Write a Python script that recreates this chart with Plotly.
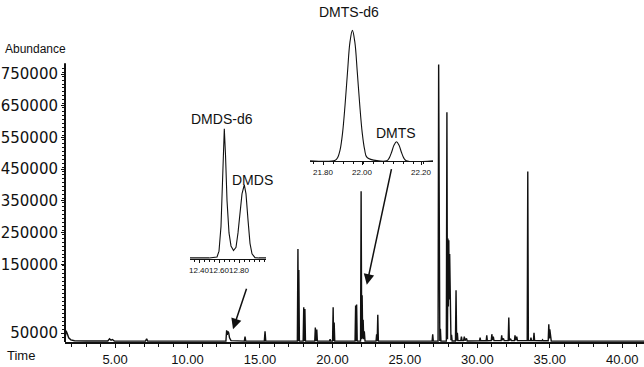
import plotly.graph_objects as go

# ---------------- data ----------------
tic_time = [1.55, 1.62, 1.70, 1.80, 1.95, 2.20, 3.00, 3.80, 4.50, 4.62, 4.72, 4.82, 4.95,
            7.10, 7.18, 7.25, 12.65, 12.70, 12.74, 12.78, 12.84, 12.90, 13.00,
            13.92, 13.97, 14.02, 15.30, 15.35, 15.40,
            17.58, 17.62, 17.65, 17.68, 17.72, 17.98, 18.02, 18.06, 18.10, 18.14,
            18.78, 18.82, 18.87, 18.92, 18.96, 19.80, 19.84, 19.88,
            20.01, 20.05, 20.08, 20.12, 20.16, 21.56, 21.60, 21.64, 21.67, 21.71,
            21.94, 21.98, 22.02, 22.05, 22.09, 22.12, 22.16, 22.20, 22.25,
            23.01, 23.05, 23.09, 23.13, 23.17, 26.88, 26.92, 26.96,
            27.29, 27.33, 27.37, 27.41, 27.45, 27.49,
            27.86, 27.90, 27.94, 27.97, 28.00, 28.03, 28.06, 28.09, 28.12, 28.14, 28.18, 28.22, 28.26,
            28.49, 28.53, 28.57, 28.62, 28.66, 28.86, 28.90, 28.95, 29.05, 29.10, 29.15, 29.25, 29.30,
            30.15, 30.19, 30.23, 30.61, 30.65, 30.69, 30.96, 31.00, 31.05, 31.10, 31.15,
            31.64, 31.68, 31.72, 31.80, 31.85, 32.13, 32.17, 32.21, 32.30, 32.35,
            32.56, 32.60, 32.65, 32.72, 32.77, 33.44, 33.48, 33.52, 33.66, 33.70, 33.74,
            33.87, 33.91, 33.95, 34.46, 34.50, 34.54, 34.89, 34.93, 34.97, 35.00, 35.05, 35.10,
            36.00, 41.50]
tic_abundance = [8000, 32000, 24000, 12000, 6000, 3500, 3000, 2500, 3000, 9000, 5000, 7000, 3000,
                 2500, 9000, 2500, 2500, 33000, 20000, 30000, 26000, 12000, 4000,
                 2500, 15000, 2500, 2500, 30000, 2500,
                 2500, 262000, 3000, 203000, 2500, 2500, 98000, 3000, 93000, 2500,
                 2500, 41000, 3000, 35000, 2500, 2500, 8000, 2500,
                 2500, 98000, 3000, 55000, 2500, 2500, 103000, 3000, 106000, 2500,
                 2500, 425000, 8000, 132000, 10000, 63000, 8000, 30000, 2500,
                 2500, 22000, 3000, 77000, 2500, 2500, 22000, 2500,
                 2500, 783000, 3000, 3000, 37000, 2500,
                 2500, 648000, 8000, 292000, 100000, 287000, 120000, 248000, 100000, 248000, 5000, 20000, 3000,
                 3000, 146000, 4000, 26000, 4000, 4000, 15000, 4000, 4000, 15000, 4000, 10000, 3000,
                 3500, 12000, 3500, 3500, 19000, 3500, 4000, 22000, 5000, 15000, 4000,
                 4000, 19000, 5000, 10000, 4000, 4000, 69000, 4000, 8000, 4000,
                 4000, 19000, 5000, 15000, 4000, 4000, 481000, 4000, 4000, 12000, 4000,
                 4000, 26000, 4000, 3500, 6000, 3500, 3500, 50000, 10000, 36000, 20000, 3000,
                 2500, 2500]

dmds_time = [12.31, 12.50, 12.58, 12.60, 12.62, 12.635, 12.653, 12.665, 12.68, 12.70, 12.72,
             12.745, 12.77, 12.79, 12.81, 12.83, 12.853, 12.87, 12.89, 12.91, 12.93, 12.96, 13.00, 13.07]
dmds_signal = [0.8, 0.8, 1.5, 6, 25, 55, 100, 80, 45, 20, 10,
               6.5, 9, 20, 38, 50, 57, 50, 30, 12, 4, 1, 0.8, 0.8]

dmts_time = [21.747, 21.85, 21.86, 21.87, 21.88, 21.89, 21.90, 21.91, 21.92, 21.93, 21.94,
             21.95, 21.96, 21.97, 21.98, 22.06, 22.07, 22.08, 22.09, 22.10, 22.11, 22.12,
             22.13, 22.14, 22.249]
dmts_signal = [0.5, 0.8, 3, 9, 22, 43, 68, 91, 100, 91, 68, 43, 22, 9, 3,
               0.5, 2.5, 7, 12.5, 15, 12.5, 7, 2.5, 0.5, 0.5]

main_xticks = [5, 10, 15, 20, 25, 30, 35, 40]
main_xticklabels = ["5.00", "10.00", "15.00", "20.00", "25.00", "30.00", "35.00", "40.00"]
main_yticklabels = ["50000", "150000", "250000", "350000", "450000", "550000", "650000", "750000"]
dmds_ticks = [12.40, 12.60, 12.80]
dmds_ticklabels = ["12.40", "12.60", "12.80"]
dmts_ticklabels = ["21.80", "22.00", "22.20"]

# ---------------- layout helpers ----------------
FONT = "Liberation Sans, Arial, sans-serif"
W, H = 644, 367
ML, MR, MT, MB = 65, 0, 0, 21
PW, PH = W - ML - MR, H - MT - MB
Y_PER_PX = 1e6 / 358.67          # abundance per pixel on the main axis
Y_TOP = PH * Y_PER_PX

def px_x(p):
    return (p - ML) / PW

def px_y(p):
    return (H - MB - p) / PH

def px_val(p):
    return (H - MB - p) * Y_PER_PX

# positions of the printed y labels as they appear on the page
ylabel_px = [337, 268, 235, 203, 171, 139, 107, 75]
ytickvals = [px_val(p) for p in ylabel_px]
yminor = [px_val(p) for p in range(341, 66, -4)]

# DMTS inset scale (printed labels sit at these pixel columns)
DMTS_X0_PX, DMTS_X1_PX = 310, 433
dmts_label_px = [323, 362, 421]
def dmts_t(p):
    return 21.80 + (p - 323) / 245.0
dmts_tickvals = [dmts_t(p) for p in dmts_label_px]
dmts_minor = [dmts_t(p) for p in range(313, 433, 10)]

fig = go.Figure()
fig.add_trace(go.Scatter(x=tic_time, y=tic_abundance, mode="lines",
                         line=dict(color="#111111", width=1.4), xaxis="x", yaxis="y",
                         hoverinfo="skip"))
fig.add_trace(go.Scatter(x=dmds_time, y=dmds_signal, mode="lines",
                         line=dict(color="#111111", width=1.1), xaxis="x2", yaxis="y2",
                         hoverinfo="skip"))
fig.add_trace(go.Scatter(x=dmts_time, y=dmts_signal, mode="lines", line_shape="spline",
                         line=dict(color="#111111", width=1.1), xaxis="x3", yaxis="y3",
                         hoverinfo="skip"))

fig.update_layout(
    width=W, height=H,
    margin=dict(l=ML, r=MR, t=MT, b=MB),
    paper_bgcolor="white", plot_bgcolor="white",
    showlegend=False,
    font=dict(family=FONT, color="#111111"),
    xaxis=dict(range=[1.546, 41.5], showgrid=False, zeroline=False,
               showline=True, linecolor="#111111", linewidth=2,
               tickmode="array", tickvals=main_xticks, ticktext=main_xticklabels,
               ticks="outside", ticklen=4, tickwidth=1, tickcolor="#111111",
               minor=dict(ticks="outside", ticklen=3, dtick=1, tick0=0, tickcolor="#111111"),
               tickfont=dict(size=13, family=FONT)),
    yaxis=dict(range=[0, Y_TOP], showgrid=False, zeroline=False, showline=False,
               tickmode="array", tickvals=ytickvals, ticktext=main_yticklabels,
               ticks="outside", ticklen=3, tickwidth=1, tickcolor="#111111",
               minor=dict(ticks="outside", ticklen=2, tickmode="array", tickvals=yminor,
                          tickcolor="#111111"),
               tickfont=dict(size=15, family="DejaVu Sans")),
    xaxis2=dict(domain=[px_x(190), px_x(266)], anchor="y2", range=[12.31, 13.07],
                showgrid=False, zeroline=False, showline=True, linecolor="#111111", linewidth=1,
                tickmode="array", tickvals=dmds_ticks, ticktext=dmds_ticklabels, tickangle=0,
                ticks="outside", ticklen=3, tickcolor="#111111",
                minor=dict(ticks="outside", ticklen=2, dtick=0.05, tick0=12.3, tickcolor="#111111"),
                tickfont=dict(size=8, family=FONT)),
    yaxis2=dict(domain=[px_y(262), px_y(125)], anchor="x2", range=[0, 104],
                visible=False),
    xaxis3=dict(domain=[px_x(DMTS_X0_PX), px_x(DMTS_X1_PX)], anchor="y3",
                range=[dmts_t(DMTS_X0_PX), dmts_t(DMTS_X1_PX)],
                showgrid=False, zeroline=False, showline=True, linecolor="#111111", linewidth=1,
                tickmode="array", tickvals=dmts_tickvals, ticktext=dmts_ticklabels, tickangle=0,
                ticks="outside", ticklen=3, tickcolor="#111111",
                minor=dict(ticks="outside", ticklen=2, tickmode="array", tickvals=dmts_minor,
                           tickcolor="#111111"),
                tickfont=dict(size=8, family=FONT)),
    yaxis3=dict(domain=[px_y(163.3), px_y(25)], anchor="x3", range=[0, 104.3],
                visible=False),
)

# y axis line (only up to the top of the scale)
fig.add_shape(type="line", xref="paper", yref="paper", x0=0, x1=0, y0=0, y1=px_y(64),
              line=dict(color="#111111", width=2))

def label(text, x, y, size=14, family=FONT, anchor="center"):
    return dict(text=text, xref="paper", yref="paper", x=px_x(x), y=px_y(y),
                xanchor=anchor, yanchor="middle", showarrow=False,
                font=dict(size=size, family=family, color="#111111"))

ann = [
    label("Abundance", 3, 50, size=12, anchor="left"),
    label("Time", 5, 360, size=13, anchor="left"),
    label("DMDS-d6", 222, 120),
    label("DMDS", 252, 182),
    label("DMTS-d6", 349, 12),
    label("DMTS", 396, 135),
]
# arrows (head position in data coordinates, tail as pixel offset)
ann.append(dict(text="", xref="x", yref="y", x=13.14, y=px_val(333), ax=14, ay=-42,
                showarrow=True, arrowhead=2, arrowsize=1.4, arrowwidth=1.5,
                arrowcolor="#111111", standoff=0))
ann.append(dict(text="", xref="x", yref="y", x=22.37, y=px_val(288), ax=25, ay=-117,
                showarrow=True, arrowhead=2, arrowsize=1.4, arrowwidth=1.5,
                arrowcolor="#111111", standoff=0))
fig.update_layout(annotations=ann)

fig.write_html("out.html")
